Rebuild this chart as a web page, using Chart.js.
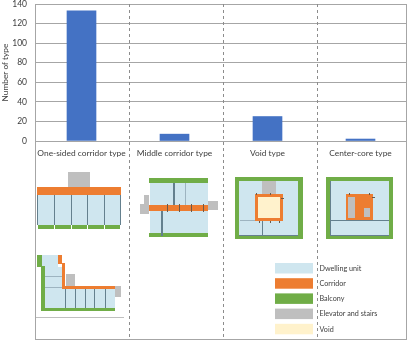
<!DOCTYPE html>
<html>
<head>
<meta charset="utf-8">
<title>Number of type</title>
<style>
  html, body { margin: 0; padding: 0; background: #fff; }
  canvas { display: block; }
</style>
<script src="https://cdn.jsdelivr.net/npm/chart.js@4"></script>
</head>
<body>
<canvas id="typeChart" width="410" height="348"></canvas>
<script>
'use strict';
//chart data
var categories = ['One-sided corridor type', 'Middle corridor type', 'Void type', 'Center-core type'];
var typeCounts = [133, 7, 25, 2];
var legendLabels = ['Dwelling unit', 'Corridor', 'Balcony', 'Elevator and stairs', 'Void'];

//colors
var DWELL = '#cfe6ef';
var CORRIDOR = '#ed7d31';
var BALCONY = '#70ad47';
var CORE = '#bfbfbf';
var VOID = '#fff2cc';
var WALL = '#64808e';
var WALL_LIGHT = '#9db4c0';
var DOOR = '#6b5a4a';
var legendColors = [DWELL, CORRIDOR, BALCONY, CORE, VOID];
var FONT = 'Lato, sans-serif';

//floor plans: color, x1, y1, x2, y2
var plans = [
  //one-sided corridor, straight
  [CORE, 68, 172, 90, 187],
  [DWELL, 38, 195, 121, 225],
  [CORRIDOR, 37, 187, 121, 195],
  [BALCONY, 38, 225, 54, 229], [BALCONY, 55, 225, 71, 229], [BALCONY, 72, 225, 87, 229],
  [BALCONY, 88, 225, 104, 229], [BALCONY, 105, 225, 120, 229],
  [WALL, 37, 195, 38, 225], [WALL, 54, 195, 55, 225], [WALL, 71, 195, 72, 225],
  [WALL, 87, 195, 88, 225], [WALL, 104, 195, 105, 225], [WALL, 120, 195, 121, 225],
  //one-sided corridor, L shaped
  [DWELL, 42, 255, 58, 267], [DWELL, 45, 267, 62, 288], [DWELL, 45, 288, 115, 308],
  [BALCONY, 37, 255, 42, 267], [BALCONY, 41, 266, 45, 311], [BALCONY, 41, 308, 115, 311],
  [CORRIDOR, 58, 255, 62, 264], [CORRIDOR, 62, 263, 65, 289], [CORRIDOR, 62, 286, 115, 289],
  [CORE, 66, 274, 75, 286], [CORE, 115, 286, 121, 297],
  [WALL, 65, 289, 66, 308], [WALL, 75, 289, 76, 308], [WALL, 85, 289, 86, 308],
  [WALL, 94, 289, 95, 308], [WALL, 105, 289, 106, 308],
  [WALL_LIGHT, 45, 276, 62, 277], [WALL_LIGHT, 45, 287, 62, 288],
  [CORE, 36, 317, 124, 318],
  //middle corridor
  [DWELL, 150, 183, 208, 233],
  [BALCONY, 149, 178, 208, 183], [BALCONY, 149, 233, 208, 237],
  [CORE, 140, 204, 149, 214], [CORE, 144, 195, 149, 205], [CORE, 208, 201, 218, 210],
  [CORRIDOR, 149, 205, 208, 211],
  [WALL, 173, 183, 175, 205], [WALL_LIGHT, 185, 183, 186, 205], [WALL, 161, 211, 163, 236],
  [DOOR, 167, 204, 168, 212], [DOOR, 179, 204, 180, 212], [DOOR, 191, 204, 192, 212], [DOOR, 203, 204, 204, 212],
  //void
  [BALCONY, 235, 177, 303, 239],
  [DWELL, 239, 181, 298, 235],
  [CORE, 262, 181, 276, 194],
  [CORRIDOR, 255, 194, 283, 221],
  [VOID, 258, 197, 280, 218],
  [WALL_LIGHT, 240, 220, 255, 221], [WALL, 262, 221, 263, 235], [WALL, 239, 235, 298, 236],
  [DOOR, 256, 193, 257, 195], [DOOR, 270, 193, 271, 195], [DOOR, 281, 198, 284, 199],
  [DOOR, 259, 221, 260, 223], [DOOR, 270, 221, 271, 223], [DOOR, 279, 221, 280, 223],
  //center core
  [BALCONY, 326, 177, 393, 239],
  [DWELL, 330, 181, 389, 235],
  [CORRIDOR, 346, 194, 373, 221],
  [CORE, 348, 197, 355, 218], [CORE, 364, 208, 370, 217],
  [WALL, 330, 220, 389, 221], [WALL, 330, 181, 331, 235], [WALL, 330, 235, 389, 236],
  [DOOR, 349, 193, 350, 195], [DOOR, 369, 193, 370, 195], [DOOR, 372, 197, 375, 198]
];

var FRAME_BOTTOM = 339;
var SEPARATORS = [129.5, 223.5, 317.5];

function drawFrame(chart){
  var ctx = chart.ctx;
  var area = chart.chartArea;
  ctx.save();
  ctx.strokeStyle = '#a6a6a6';
  ctx.lineWidth = 1;
  ctx.strokeRect(area.left + 0.5, area.top + 0.5, area.right - area.left - 1, FRAME_BOTTOM - area.top);
  //dashed separators between the types
  ctx.setLineDash([3, 3]);
  ctx.strokeStyle = '#8c8c8c';
  for(var i = 0; i < SEPARATORS.length; i++){
    ctx.beginPath();
    ctx.moveTo(SEPARATORS[i], area.top);
    ctx.lineTo(SEPARATORS[i], FRAME_BOTTOM);
    ctx.stroke();
  }
  ctx.restore();
}

function drawPlans(ctx){
  for(var i = 0; i < plans.length; i++){
    var p = plans[i];
    ctx.fillStyle = p[0];
    ctx.fillRect(p[1], p[2], p[3] - p[1], p[4] - p[2]);
  }
}

function drawKey(ctx){
  ctx.save();
  ctx.font = '7.2px ' + FONT;
  ctx.textBaseline = 'middle';
  for(var i = 0; i < legendLabels.length; i++){
    var top = 263 + i * 15.2;
    ctx.fillStyle = legendColors[i];
    ctx.fillRect(275, top, 38, 10.5);
    ctx.fillStyle = '#404040';
    ctx.fillText(legendLabels[i], 319.5, top + 5.5);
  }
  ctx.restore();
}

var sketchPlugin = {
  id: 'sketch',
  beforeDatasetsDraw: function(chart){
    drawFrame(chart);
  },
  afterDraw: function(chart){
    drawPlans(chart.ctx);
    drawKey(chart.ctx);
  }
};

var typeChart = new Chart(document.getElementById('typeChart'), {
  type: 'bar',
  data: {
    labels: categories,
    datasets: [{
      label: 'Number of type',
      data: typeCounts,
      backgroundColor: '#4472c4',
      barThickness: 29
    }]
  },
  options: {
    responsive: false,
    animation: false,
    layout: { padding: { left: 0, top: 4, right: 3, bottom: 0 } },
    plugins: { legend: { display: false }, tooltip: { enabled: false } },
    scales: {
      x: {
        grid: { display: false, drawTicks: false },
        border: { display: false },
        ticks: { color: '#404040', font: { family: FONT, size: 8.4 }, padding: 7, maxRotation: 0, autoSkip: false },
        afterFit: function(scale){
          scale.height = 207;
          scale.paddingLeft = 0;
          scale.paddingRight = 0;
        }
      },
      y: {
        min: 0,
        max: 140,
        ticks: { stepSize: 20, color: '#404040', font: { family: FONT, size: 8.5 }, padding: 8 },
        grid: { color: '#a6a6a6', lineWidth: 1, drawTicks: false },
        border: { display: false },
        title: { display: true, text: 'Number of type', color: '#404040', font: { family: FONT, size: 8.3 }, padding: { top: 0, bottom: 0 } },
        afterFit: function(scale){
          scale.width = 35;
          scale.paddingTop = 0;
          scale.paddingBottom = 0;
        }
      }
    }
  },
  plugins: [sketchPlugin]
});
</script>
</body>
</html>
